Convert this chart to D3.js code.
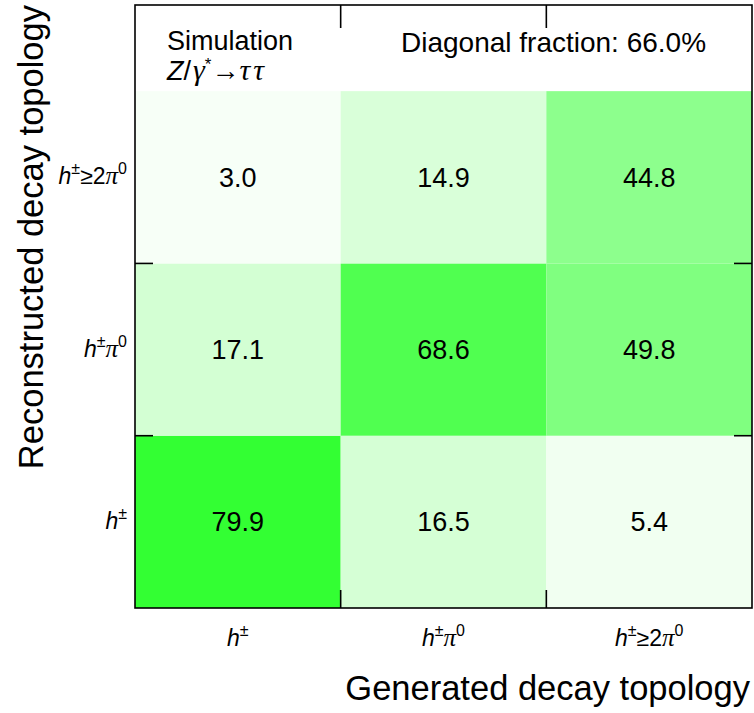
<!DOCTYPE html>
<html>
<head>
<meta charset="utf-8">
<script src="https://cdn.jsdelivr.net/npm/d3@7"></script>
<style>
  body { margin: 0; background: #fff; }
  text { font-family: "Liberation Sans", Arial, Helvetica, sans-serif; fill: #000; }
  .greek { font-family: "Liberation Serif", "Times New Roman", serif; font-style: italic; }
</style>
</head>
<body>
<svg id="chart" width="754" height="713"></svg>
<script>
// Decay topology migration matrix (percent of generated events per reconstructed class)
const generated = ["h±", "h±π0", "h±≥2π0"];
const reconstructed = ["h±", "h±π0", "h±≥2π0"];
// rows: reconstructed (bottom to top), columns: generated
const rowHpm = [79.9, 16.5, 5.4];
const rowHpmPi0 = [17.1, 68.6, 49.8];
const rowHpm2Pi0 = [3.0, 14.9, 44.8];
const matrix = [rowHpm, rowHpmPi0, rowHpm2Pi0];
const diagonalFraction = "66.0%";

const svg = d3.select("#chart");
const plotLeft = 135, plotRight = 752, plotTop = 5, plotBottom = 608;

const x = d3.scaleLinear().domain([-0.5, 2.5]).range([plotLeft, plotRight]);
const y = d3.scaleLinear().domain([-0.5, 3.0]).range([plotBottom, plotTop]);
const color = d3.scaleLinear().domain([0, 100]).range(["#ffffff", "#00ff00"]);

const cells = [];
matrix.forEach((row, ri) => row.forEach((v, ci) => cells.push({ ri, ci, v })));

svg.append("g").selectAll("rect").data(cells).join("rect")
  .attr("x", d => x(d.ci - 0.5))
  .attr("y", d => y(d.ri + 0.5))
  .attr("width", d => x(d.ci + 0.5) - x(d.ci - 0.5))
  .attr("height", d => y(d.ri - 0.5) - y(d.ri + 0.5))
  .attr("fill", d => color(d.v));

svg.append("g").selectAll("text").data(cells).join("text")
  .attr("x", d => x(d.ci))
  .attr("y", d => y(d.ri) + 9.5)
  .attr("text-anchor", "middle")
  .attr("font-size", 27)
  .text(d => d.v.toFixed(1));

// frame
svg.append("rect")
  .attr("x", plotLeft).attr("y", plotTop)
  .attr("width", plotRight - plotLeft).attr("height", plotBottom - plotTop)
  .attr("fill", "none").attr("stroke", "#000").attr("stroke-width", 1.6);

// inner ticks at bin boundaries
const tickLen = 18;
const g = svg.append("g").attr("stroke", "#000").attr("stroke-width", 1.6);
[0.5, 1.5].forEach(b => {
  g.append("line").attr("x1", x(b)).attr("x2", x(b)).attr("y1", plotBottom).attr("y2", plotBottom - tickLen);
  g.append("line").attr("x1", x(b)).attr("x2", x(b)).attr("y1", plotTop).attr("y2", plotTop + tickLen + 5);
  g.append("line").attr("y1", y(b)).attr("y2", y(b)).attr("x1", plotLeft).attr("x2", plotLeft + tickLen);
  g.append("line").attr("y1", y(b)).attr("y2", y(b)).attr("x1", plotRight).attr("x2", plotRight - tickLen);
});

// topology labels with italic symbols and superscripts
function topoLabel(sel, label) {
  const parts = [];
  if (label === "h±") parts.push(["h", "i"], ["±", "s"]);
  else if (label === "h±π0") parts.push(["h", "i"], ["±", "s"], ["π", "g"], ["0", "s"]);
  else parts.push(["h", "i"], ["±", "s"], ["≥2", "n"], ["π", "g"], ["0", "s"]);
  let prevSup = false;
  parts.forEach(([t, k]) => {
    const ts = sel.append("tspan").text(t);
    if (k === "i") ts.attr("font-style", "italic");
    if (k === "g") ts.attr("class", "greek").attr("font-size", 25);
    if (k === "s") { ts.attr("font-size", 16).attr("dy", -10); prevSup = true; }
    else if (prevSup) { ts.attr("dy", 10); prevSup = false; }
  });
}

svg.append("g").selectAll("text").data(generated).join("text")
  .attr("x", (d, i) => x(i))
  .attr("y", 646)
  .attr("text-anchor", "middle")
  .attr("font-size", 23)
  .each(function (d) { topoLabel(d3.select(this), d); });

svg.append("g").selectAll("text").data(reconstructed).join("text")
  .attr("x", 127)
  .attr("y", (d, i) => y(i) + 7)
  .attr("text-anchor", "end")
  .attr("font-size", 23)
  .each(function (d) { topoLabel(d3.select(this), d); });

// axis titles
svg.append("text")
  .attr("x", 750).attr("y", 700)
  .attr("text-anchor", "end").attr("font-size", 34.5)
  .text("Generated decay topology");

svg.append("text")
  .attr("transform", "translate(43,5) rotate(-90)")
  .attr("text-anchor", "end").attr("font-size", 34.5)
  .text("Reconstructed decay topology");

// header annotations
svg.append("text").attr("x", 167).attr("y", 50).attr("font-size", 27).text("Simulation");
const proc = svg.append("text").attr("x", 167).attr("y", 80).attr("font-size", 27);
proc.append("tspan").attr("font-style", "italic").text("Z");
proc.append("tspan").text("/");
proc.append("tspan").attr("class", "greek").attr("font-size", 30).attr("dx", 2).text("γ");
proc.append("tspan").attr("font-size", 17).attr("dy", -10).text("*");
proc.append("tspan").attr("dy", 10).attr("font-size", 28).text("→");
proc.append("tspan").attr("class", "greek").attr("font-size", 30).attr("letter-spacing", 3).text("ττ");

svg.append("text").attr("x", 401).attr("y", 52).attr("font-size", 28)
  .text("Diagonal fraction: " + diagonalFraction);
</script>
</body>
</html>
